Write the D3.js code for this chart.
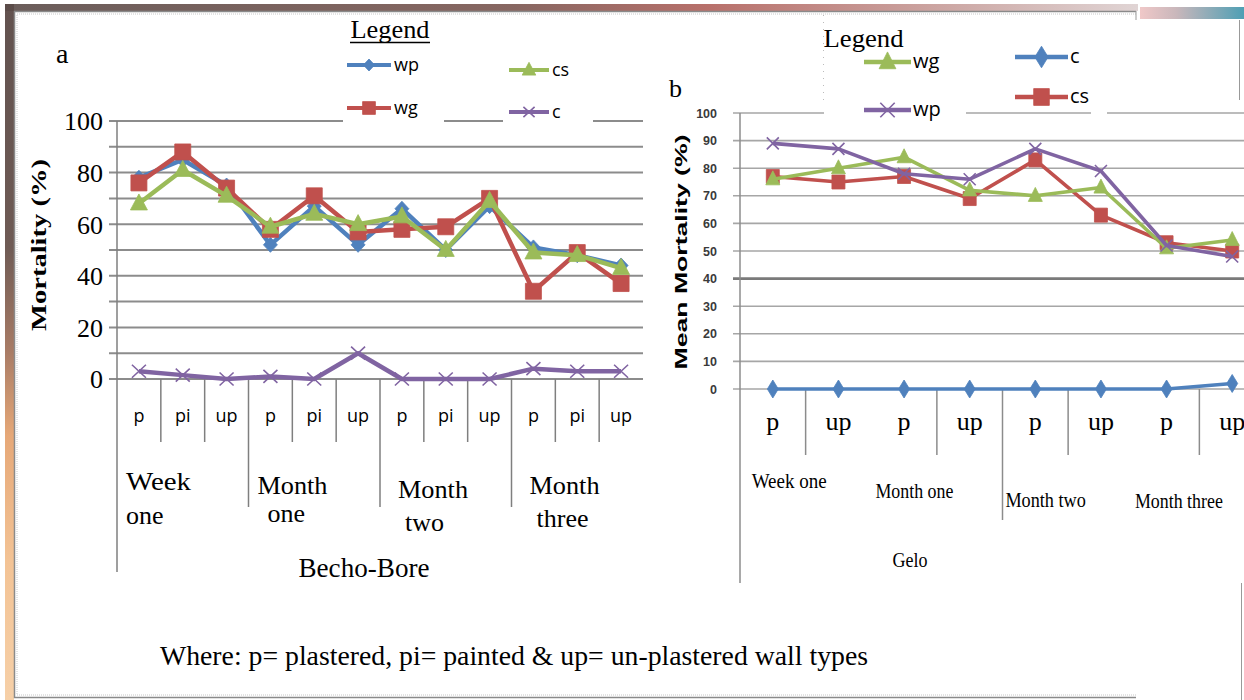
<!DOCTYPE html>
<html>
<head>
<meta charset="utf-8">
<script src="https://cdn.jsdelivr.net/npm/d3@7"></script>
<style>
  html, body { margin: 0; padding: 0; background: #fff; }
  svg { display: block; }
</style>
</head>
<body>
<svg id="fig" width="1244" height="700"></svg>
<script>
// ---------------- Panel a: Becho-Bore ----------------
const wallTypesA = ["p", "pi", "up", "p", "pi", "up", "p", "pi", "up", "p", "pi", "up"];
const periodsA = [["Week", "one"], ["Month", "one"], ["Month", "two"], ["Month", "three"]];
const seriesNamesA = ["wp", "wg", "cs", "c"];
const wpA = [78, 85, 75, 52, 67, 52, 66, 50, 67, 51, 48, 44];
const wgA = [76, 88, 74, 58, 71, 57, 58, 59, 70, 34, 49, 37];
const csA = [68, 81, 71, 59, 64, 60, 63, 50, 69, 49, 48, 43];
const cA  = [3, 1.5, 0, 1, 0, 10, 0, 0, 0, 4, 3, 3];
const yTickLabelsA = [0, 20, 40, 60, 80, 100];

// ---------------- Panel b: Gelo ----------------
const wallTypesB = ["p", "up", "p", "up", "p", "up", "p", "up"];
const periodsB = ["Week one", "Month one", "Month two", "Month three"];
const seriesNamesB = ["wg", "c", "wp", "cs"];
const wgB = [76, 80, 84, 72, 70, 73, 51, 54];
const cB  = [0, 0, 0, 0, 0, 0, 0, 2];
const wpB = [89, 87, 78, 76, 87, 79, 52, 48];
const csB = [77, 75, 77, 69, 83, 63, 53, 50];
const yTickLabelsB = [0, 10, 20, 30, 40, 50, 60, 70, 80, 90, 100];

// ---------------- styling ----------------
const BLUE = "#4f81bd", RED = "#c0504d", GREEN = "#9bbb59", PURPLE = "#8064a2";
const SERIF = "'Liberation Serif', 'Times New Roman', serif";
const SANS = "'Open Sans', 'Liberation Sans', sans-serif";

const svg = d3.select("#fig");

// marker outlines, centred on 0,0
const marker = {
  diamond: (w, h) => `M0,${-h / 2}L${w / 2},0L0,${h / 2}L${-w / 2},0Z`,
  square: (w, h) => `M${-w / 2},${-h / 2}h${w}v${h}h${-w}Z`,
  triangle: (w, h) => `M0,${-h * 0.6}L${w / 2},${h * 0.4}L${-w / 2},${h * 0.4}Z`,
  cross: (w, h) => `M${-w / 2},${-h / 2}L${w / 2},${h / 2}M${w / 2},${-h / 2}L${-w / 2},${h / 2}`
};

function drawMarker(g, kind, x, y, w, h, color) {
  const p = g.append("path").attr("d", marker[kind](w, h))
    .attr("transform", `translate(${x},${y})`);
  if (kind === "cross") p.attr("fill", "none").attr("stroke", color).attr("stroke-width", 1.6);
  else p.attr("fill", color).attr("stroke", color).attr("stroke-width", 0.8);
}

function text(g, str, x, y, opts = {}) {
  const t = g.append("text").attr("x", x).attr("y", y).text(str)
    .attr("font-family", opts.family || SERIF)
    .attr("font-size", opts.size || 16)
    .attr("fill", opts.fill || "#000")
    .attr("text-anchor", opts.anchor || "start");
  if (opts.weight) t.attr("font-weight", opts.weight);
  if (opts.len) t.attr("textLength", opts.len).attr("lengthAdjust", "spacingAndGlyphs");
  if (opts.rotate) t.attr("transform", `rotate(${opts.rotate},${x},${y})`);
  return t;
}

// ---------------- background decoration ----------------
const defs = svg.append("defs");
const lg1 = defs.append("linearGradient").attr("id", "sideStrip").attr("x1", 0).attr("x2", 0).attr("y1", 0).attr("y2", 1);
[[0, "#62524f"], [0.35, "#6f5b55"], [0.5, "#a97c66"], [0.62, "#e6a878"], [0.8, "#f3c395"], [1, "#f6d0a8"]]
  .forEach(([o, c]) => lg1.append("stop").attr("offset", o).attr("stop-color", c));
const lg2 = defs.append("linearGradient").attr("id", "topStrip");
[[0, "#5a4b48"], [0.45, "#7a5650"], [0.62, "#b0605a"], [0.85, "#c9a3a0"], [1, "#ddd0d0"]]
  .forEach(([o, c]) => lg2.append("stop").attr("offset", o).attr("stop-color", c));
const lg3 = defs.append("linearGradient").attr("id", "cornerStrip");
[[0, "#f0c8c8"], [0.35, "#c9b7bb"], [1, "#4e9fb4"]]
  .forEach(([o, c]) => lg3.append("stop").attr("offset", o).attr("stop-color", c));

svg.append("rect").attr("x", 5).attr("y", 4).attr("width", 9).attr("height", 696).attr("fill", "url(#sideStrip)");
svg.append("rect").attr("x", 5).attr("y", 4).attr("width", 1133).attr("height", 7).attr("fill", "url(#topStrip)").attr("opacity", 0.9);
svg.append("rect").attr("x", 1140).attr("y", 7).attr("width", 104).attr("height", 12).attr("fill", "url(#cornerStrip)");

// outer frame (top, left, bottom)
const frame = svg.append("g").attr("fill", "none");
frame.append("path").attr("d", "M1136,11.5H14.5V697.5H1136").attr("stroke", "#8a8a8a").attr("stroke-width", 1.5);
frame.append("path").attr("d", "M1136,14H17V695H1136").attr("stroke", "#c8c8c8").attr("stroke-width", 1).attr("stroke-dasharray", "1,1");
frame.append("path").attr("d", "M1136,11V20").attr("stroke", "#999");
frame.append("path").attr("d", "M1239.5,20V100").attr("stroke", "#999");
frame.append("path").attr("d", "M1241.5,583V700").attr("stroke", "#999");

// =====================================================
// Panel a
// =====================================================
const gA = svg.append("g");
const xA = d3.scaleBand().domain(d3.range(wallTypesA.length)).range([117, 643]);
const yA = d3.scaleLinear().domain([0, 100]).range([379, 121]);
const bwA = xA.bandwidth();
const cxA = i => xA(i) + bwA / 2;

// horizontal gridlines with short ticks left of the axis
gA.append("g").selectAll("line").data(yA.ticks(10)).join("line")
  .attr("x1", 109).attr("x2", 643)
  .attr("y1", d => yA(d)).attr("y2", d => yA(d))
  .attr("stroke", "#8c8c8c").attr("stroke-width", 2);

// tick labels
gA.append("g").selectAll("text").data(yTickLabelsA).join("text")
  .attr("x", 103).attr("y", d => yA(d)).attr("dy", "0.36em")
  .attr("text-anchor", "end").attr("font-family", SERIF).attr("font-size", 26)
  .text(d => d);

// vertical axis and category separators
gA.append("line").attr("x1", 117).attr("x2", 117).attr("y1", 121).attr("y2", 572)
  .attr("stroke", "#7f7f7f").attr("stroke-width", 1.5);
gA.append("g").selectAll("line").data(d3.range(1, wallTypesA.length)).join("line")
  .attr("x1", d => xA(d)).attr("x2", d => xA(d))
  .attr("y1", 379).attr("y2", d => d % 3 === 0 ? 507 : 442)
  .attr("stroke", "#7f7f7f").attr("stroke-width", 1.5);

// wall type labels
gA.append("g").selectAll("text").data(wallTypesA).join("text")
  .attr("x", (d, i) => cxA(i)).attr("y", 422)
  .attr("text-anchor", "middle").attr("font-family", SANS).attr("font-size", 18)
  .text(d => d);

// period labels (two lines each), placed inside their group
const periodLayoutA = [[9, 490, 9, 524], [9, 494, 19, 522], [18, 498, 25, 531], [18, 494, 25, 527]];
periodsA.forEach((lines, k) => {
  const x0 = xA(k * 3);
  const [dx1, y1, dx2, y2] = periodLayoutA[k];
  text(gA, lines[0], x0 + dx1, y1, { size: 26, len: k === 0 ? 65 : 70 });
  text(gA, lines[1], x0 + dx2, y2, { size: 26 });
});
text(gA, "Becho-Bore", 364, 577, { size: 27, anchor: "middle", len: 131 });

// axis title and panel letter
text(gA, "Mortality (%)", 46, 245, { size: 22, weight: "bold", anchor: "middle", rotate: -90, len: 172 });
text(gA, "a", 56, 63, { size: 28 });

// legend box (covers part of the top gridline)
gA.append("rect").attr("x", 343).attr("y", 98).attr("width", 101).attr("height", 30).attr("fill", "#fff");
gA.append("rect").attr("x", 503).attr("y", 98).attr("width", 90).attr("height", 30).attr("fill", "#fff");
text(gA, "Legend", 350.5, 38, { size: 26, len: 79 });
gA.append("line").attr("x1", 350).attr("x2", 430).attr("y1", 42.5).attr("y2", 42.5).attr("stroke", "#000").attr("stroke-width", 1.6);

const styleA = {
  wp: { color: BLUE, kind: "diamond", w: 14, h: 15, values: wpA },
  wg: { color: RED, kind: "square", w: 16, h: 16, values: wgA },
  cs: { color: GREEN, kind: "triangle", w: 17, h: 16, values: csA },
  c:  { color: PURPLE, kind: "cross", w: 14, h: 13, values: cA }
};
const legendLayoutA = { wp: [347, 391, 65], wg: [347, 391, 108], cs: [509, 549, 70], c: [509, 549, 112] };

seriesNamesA.forEach(name => {
  const s = styleA[name];
  const [lx1, lx2, ly] = legendLayoutA[name];
  gA.append("line").attr("x1", lx1).attr("x2", lx2).attr("y1", ly).attr("y2", ly)
    .attr("stroke", s.color).attr("stroke-width", 4);
  drawMarker(gA, s.kind, (lx1 + lx2) / 2, ly, s.w * 0.8, s.h * 0.8, s.color);
  text(gA, name, lx2 + 3, ly + 6, { family: SANS, size: 18 });
});

// series lines and markers
const lineA = d3.line().x((d, i) => cxA(i)).y(d => yA(d));
seriesNamesA.forEach(name => {
  const s = styleA[name];
  const g = gA.append("g");
  g.append("path").attr("d", lineA(s.values)).attr("fill", "none")
    .attr("stroke", s.color).attr("stroke-width", 4.5).attr("stroke-linejoin", "round");
  s.values.forEach((v, i) => drawMarker(g, s.kind, cxA(i), yA(v), s.w, s.h, s.color));
});

// =====================================================
// Panel b
// =====================================================
const gB = svg.append("g");
const xB = d3.scaleBand().domain(d3.range(wallTypesB.length)).range([740, 1265]);
const yB = d3.scaleLinear().domain([0, 100]).range([389, 113]);
const bwB = xB.bandwidth();
const cxB = i => xB(i) + bwB / 2;

gB.append("g").selectAll("line").data(yTickLabelsB).join("line")
  .attr("x1", 733).attr("x2", 1244)
  .attr("y1", d => yB(d)).attr("y2", d => yB(d))
  .attr("stroke", d => d === 40 ? "#7a7a7a" : "#a6a6a6")
  .attr("stroke-width", d => d === 40 ? 2.6 : 1.6);

gB.append("g").selectAll("text").data(yTickLabelsB).join("text")
  .attr("x", 717).attr("y", d => yB(d)).attr("dy", "0.36em")
  .attr("text-anchor", "end").attr("font-family", "'Liberation Sans', sans-serif")
  .attr("font-size", 12.5).attr("font-weight", "bold").attr("fill", "#3a3a3a").text(d => d);

gB.append("line").attr("x1", 740).attr("x2", 740).attr("y1", 113).attr("y2", 583)
  .attr("stroke", "#8c8c8c").attr("stroke-width", 1.5);
// separators between wall types, with a longer one between the month groups
gB.append("g").selectAll("line").data([1, 3, 4, 5, 7]).join("line")
  .attr("x1", d => xB(d)).attr("x2", d => xB(d))
  .attr("y1", 389).attr("y2", d => d === 4 ? 520 : 455)
  .attr("stroke", "#8c8c8c").attr("stroke-width", 1.5);

gB.append("g").selectAll("text").data(wallTypesB).join("text")
  .attr("x", (d, i) => cxB(i)).attr("y", 430)
  .attr("text-anchor", "middle").attr("font-family", SERIF).attr("font-size", 26)
  .text(d => d);

const periodLayoutB = [[-16.5, 488, 75], [-22.5, 498, 78], [-22.5, 507, 80.5], [-20.5, 508, 88]];
periodsB.forEach((label, k) => {
  const [dx, y, len] = periodLayoutB[k];
  text(gB, label, xB(k * 2) + bwB + dx, y, { size: 22, anchor: "middle", len });
});
text(gB, "Gelo", 910, 567, { size: 22, anchor: "middle", len: 35 });

text(gB, "Mean Mortality (%)", 687, 252, { family: "'Liberation Sans', sans-serif", size: 17, weight: "bold", anchor: "middle", rotate: -90, len: 235 });
text(gB, "b", 669, 97, { size: 26 });

// legend
gB.append("rect").attr("x", 824).attr("y", 98).attr("width", 142).attr("height", 30).attr("fill", "#fff");
gB.append("rect").attr("x", 1091).attr("y", 98).attr("width", 16).attr("height", 30).attr("fill", "#fff");
gB.append("line").attr("x1", 823.5).attr("x2", 823.5).attr("y1", 15).attr("y2", 100)
  .attr("stroke", "#bbb").attr("stroke-dasharray", "1,6");
text(gB, "Legend", 823.5, 47, { size: 26, len: 80 });

const styleB = {
  wg: { color: GREEN, kind: "triangle", w: 14, h: 14, values: wgB },
  c:  { color: BLUE, kind: "diamond", w: 11, h: 18, values: cB },
  wp: { color: PURPLE, kind: "cross", w: 12, h: 12, values: wpB },
  cs: { color: RED, kind: "square", w: 13, h: 14, values: csB }
};
const legendLayoutB = { wg: [864, 911, 62], c: [1015, 1068, 57], wp: [864, 911, 110], cs: [1015, 1068, 97] };

seriesNamesB.forEach(name => {
  const s = styleB[name];
  const [lx1, lx2, ly] = legendLayoutB[name];
  gB.append("line").attr("x1", lx1).attr("x2", lx2).attr("y1", ly).attr("y2", ly)
    .attr("stroke", s.color).attr("stroke-width", 4.5);
  drawMarker(gB, s.kind, (lx1 + lx2) / 2, ly, s.w * 1.2, s.h * 1.2, s.color);
  text(gB, name, lx2 + 2, ly + 6, { family: SANS, size: 20 });
});

const lineB = d3.line().x((d, i) => cxB(i)).y(d => yB(d));
["c", "cs", "wg", "wp"].forEach(name => {
  const s = styleB[name];
  const g = gB.append("g");
  g.append("path").attr("d", lineB(s.values)).attr("fill", "none")
    .attr("stroke", s.color).attr("stroke-width", 3.6).attr("stroke-linejoin", "round");
  s.values.forEach((v, i) => drawMarker(g, s.kind, cxB(i), yB(v), s.w, s.h, s.color));
});

// footnote
text(svg, "Where: p= plastered, pi= painted & up= un-plastered wall types", 160, 665, { size: 27, len: 708 });
</script>
</body>
</html>
